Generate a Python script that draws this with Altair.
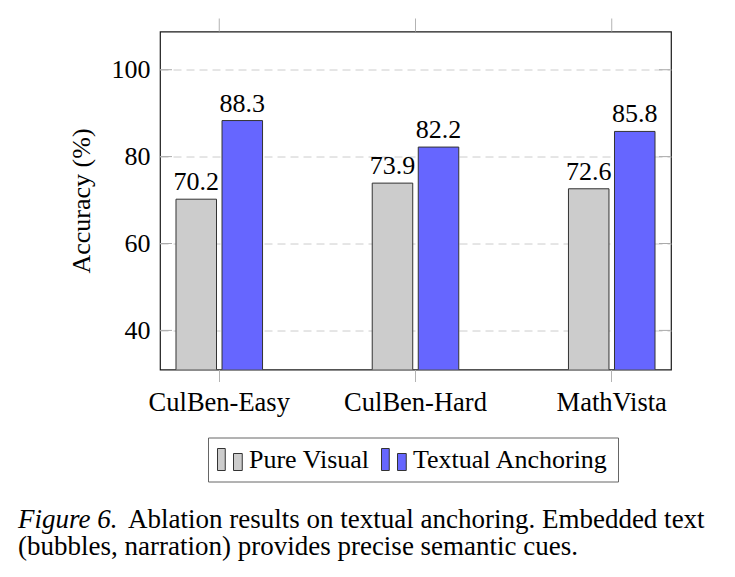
import altair as alt
import pandas as pd

# Benchmarks and the two ablation settings
benchmarks = ["CulBen-Easy", "CulBen-Hard", "MathVista"]
settings = ["Pure Visual", "Textual Anchoring"]
pure_visual = [70.2, 73.9, 72.6]
textual_anchoring = [88.3, 82.2, 85.8]
y_ticks = [40, 60, 80, 100]
caption_lead = ["Figure 6."]
caption_lines = [
    "Ablation results on textual anchoring. Embedded text",
    "(bubbles, narration) provides precise semantic cues.",
]

FONT = "Liberation Serif"
W, H = 511, 338

rows = []
for b, pv, ta in zip(benchmarks, pure_visual, textual_anchoring):
    rows.append({"benchmark": b, "setting": settings[0], "acc": pv})
    rows.append({"benchmark": b, "setting": settings[1], "acc": ta})
df = pd.DataFrame(rows)

x_enc = alt.X(
    "benchmark:N",
    sort=benchmarks,
    title=None,
    scale=alt.Scale(paddingInner=0.559, paddingOuter=0.0815),
    axis=alt.Axis(
        labelAngle=0, labelFont=FONT, labelFontSize=26.5, labelColor="black",
        labelPadding=8, tickSize=12, tickColor="#b3b3b3", tickWidth=1,
        domain=False, grid=False, labelLimit=0,
    ),
)
xoff_enc = alt.XOffset(
    "setting:N", sort=settings,
    scale=alt.Scale(paddingInner=0.12, paddingOuter=0),
)
y_scale = alt.Scale(domain=[31, 108.8], nice=False, zero=False)
y_enc = alt.Y(
    "acc:Q",
    scale=y_scale,
    title="Accuracy (%)",
    axis=alt.Axis(
        values=y_ticks, ticks=False, domain=False, labelPadding=10,
        labelFont=FONT, labelFontSize=26, labelColor="black",
        titleFont=FONT, titleFontSize=26, titleFontWeight="normal",
        titleColor="black", titleX=-79, titleY=H / 2, titleBaseline="middle",
        grid=True, gridColor="#cccccc", gridDash=[8, 5], gridWidth=1,
    ),
)
color_enc = alt.Color(
    "setting:N",
    sort=settings,
    scale=alt.Scale(domain=settings, range=["#cccccc", "#6666ff"]),
    legend=alt.Legend(
        title=None, orient="none", legendX=48, legendY=406,
        direction="horizontal",
        symbolType="M-1,-0.88H-0.38V0.88H-1Z M0.28,-0.48H0.98V0.88H0.28Z",
        symbolSize=625, symbolStrokeColor="#333333", symbolStrokeWidth=1,
        symbolOpacity=1, labelFont=FONT, labelFontSize=26, labelColor="black",
        labelOffset=6, columnPadding=9, padding=9, labelLimit=0,
        strokeColor="#666666", fillColor="white",
    ),
)

bars = alt.Chart(df).mark_bar(
    stroke="#333333", strokeWidth=1, opacity=1, clip=True
).encode(
    x=x_enc, xOffset=xoff_enc, y=y_enc, color=color_enc,
)

labels = alt.Chart(df).mark_text(
    font=FONT, fontSize=26, color="black", baseline="alphabetic", dy=-9,
).encode(
    x=alt.X("benchmark:N", sort=benchmarks),
    xOffset=alt.XOffset("setting:N", sort=settings),
    y=alt.Y("acc:Q"),
    text=alt.Text("acc:Q", format=".1f"),
)

# Inward tick marks on the left and right edges of the frame
tick_df = pd.DataFrame({"v": y_ticks})
left_ticks = alt.Chart(tick_df).mark_rule(color="#aaaaaa", strokeWidth=1).encode(
    y=alt.Y("v:Q"), x=alt.value(0), x2=alt.value(12),
)
right_ticks = alt.Chart(tick_df).mark_rule(color="#aaaaaa", strokeWidth=1).encode(
    y=alt.Y("v:Q"), x=alt.value(W - 12), x2=alt.value(W),
)

# Category ticks above the top edge of the frame
top_ticks = alt.Chart(pd.DataFrame({"benchmark": benchmarks})).mark_rule(
    color="#b3b3b3", strokeWidth=1
).encode(
    x=alt.X("benchmark:N", sort=benchmarks, bandPosition=0.5),
    y=alt.value(-13), y2=alt.value(0),
)

# Figure caption below the chart
CAP_SIZE = 27
cap_lead = alt.Chart(pd.DataFrame({"t": caption_lead})).mark_text(
    font=FONT, fontSize=CAP_SIZE, fontStyle="italic", color="black",
    align="left", baseline="alphabetic",
).encode(x=alt.value(-142), y=alt.value(496), text="t:N")

cap_l1 = alt.Chart(pd.DataFrame({"t": caption_lines[:1]})).mark_text(
    font=FONT, fontSize=CAP_SIZE, color="black", align="left", baseline="alphabetic",
).encode(x=alt.value(-32), y=alt.value(496), text="t:N")
cap_l2 = alt.Chart(pd.DataFrame({"t": caption_lines[1:]})).mark_text(
    font=FONT, fontSize=CAP_SIZE, color="black", align="left", baseline="alphabetic",
).encode(x=alt.value(-142), y=alt.value(523.5), text="t:N")

chart = alt.layer(
    bars, labels, left_ticks, right_ticks, top_ticks, cap_lead, cap_l1, cap_l2
).properties(
    width=W, height=H,
    autosize=alt.AutoSizeParams(type="none"),
    padding={"left": 160, "top": 31.5, "right": 64, "bottom": 208},
    background="white",
).configure_view(
    stroke="#1a1a1a", strokeWidth=1.2,
)

chart.save("out.html", embed_options={"renderer": "svg", "actions": False})
